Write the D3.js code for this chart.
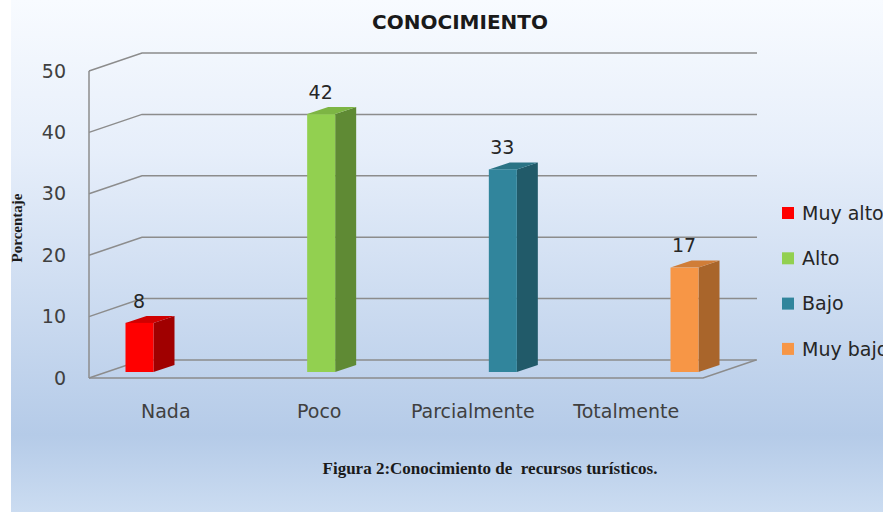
<!DOCTYPE html>
<html lang="es">
<head>
<meta charset="UTF-8">
<title>Conocimiento</title>
<script src="https://d3js.org/d3.v7.min.js"></script>
<style>
  body { margin: 0; background: #fff; overflow: hidden; }
  svg text { font-family: "DejaVu Sans", sans-serif; }
</style>
</head>
<body>
<div id="chart"></div>
<script>
// datos
const categorias = ["Nada", "Poco", "Parcialmente", "Totalmente"];
const valores = [8, 42, 33, 17];
const series = ["Muy alto", "Alto", "Bajo", "Muy bajo"];
const ticks = [0, 10, 20, 30, 40, 50];

const colores = [
  { frente: "#ff0000", lado: "#a00000", tapa: "#d00000" },
  { frente: "#92d050", lado: "#5f8a34", tapa: "#7db544" },
  { frente: "#31859c", lado: "#215a69", tapa: "#2a7385" },
  { frente: "#f79646", lado: "#a9652b", tapa: "#d07d38" }
];

const width = 883, height = 512;
// profundidad del "piso" 3D y de las barras
const prof = { dx: 53, dy: -18 };
const barProf = { dx: 21, dy: -7 };
const barShift = { dx: 18, dy: -6 };
const barW = 28;

const svg = d3.select("#chart").append("svg")
  .attr("width", width)
  .attr("height", height);

// fondo degradado
const defs = svg.append("defs");
const grad = defs.append("linearGradient")
  .attr("id", "fondo").attr("x1", 0).attr("y1", 0).attr("x2", 0).attr("y2", 1);
grad.append("stop").attr("offset", "0%").attr("stop-color", "#f8fbff");
grad.append("stop").attr("offset", "30%").attr("stop-color", "#e6eefa");
grad.append("stop").attr("offset", "85%").attr("stop-color", "#b5cbe8");
grad.append("stop").attr("offset", "100%").attr("stop-color", "#cbdcf1");

svg.append("rect")
  .attr("x", 11).attr("y", 0)
  .attr("width", width - 11).attr("height", height)
  .attr("fill", "url(#fondo)");

// escalas
const y = d3.scaleLinear().domain([0, 50]).range([378, 71]);
const xEtiqueta = d3.scaleBand().domain(categorias).range([89, 703]);
const xBarra = d3.scalePoint().domain(categorias).range([139, 684]);

const gris = "#8c8c8c";

// líneas de cuadrícula (frente -> fondo -> derecha)
svg.append("g").selectAll("path")
  .data(ticks)
  .join("path")
  .attr("d", t => {
    const p = d3.path();
    p.moveTo(89, y(t));
    p.lineTo(89 + prof.dx, y(t) + prof.dy);
    p.lineTo(757, y(t) + prof.dy);
    return p.toString();
  })
  .attr("fill", "none")
  .attr("stroke", gris)
  .attr("stroke-width", 1.5);

// eje vertical y borde del piso
svg.append("line")
  .attr("x1", 89).attr("x2", 89)
  .attr("y1", y(0)).attr("y2", y(50))
  .attr("stroke", gris).attr("stroke-width", 1.5);

svg.append("path")
  .attr("d", `M89,${y(0)}L703,${y(0)}L${703 + prof.dx},${y(0) + prof.dy}`)
  .attr("fill", "none")
  .attr("stroke", gris).attr("stroke-width", 1.5);

// etiquetas eje Y
svg.append("g").selectAll("text")
  .data(ticks)
  .join("text")
  .attr("x", 66)
  .attr("y", d => y(d))
  .attr("dy", "0.35em")
  .attr("text-anchor", "end")
  .attr("font-size", 19)
  .attr("fill", "#404040")
  .text(d => d);

// barras 3D
const barras = svg.append("g").selectAll("g")
  .data(categorias.map((c, i) => ({ c, v: valores[i], col: colores[i] })))
  .join("g");

function punto(d) {
  const x0 = xBarra(d.c) - barW / 2 + 0.5;
  const yb = y(0) + barShift.dy;
  const yt = y(d.v) + barShift.dy;
  return { x0, x1: x0 + barW, yb, yt };
}

// cara lateral
barras.append("path")
  .attr("d", d => {
    const p = punto(d);
    return `M${p.x1},${p.yb}L${p.x1 + barProf.dx},${p.yb + barProf.dy}L${p.x1 + barProf.dx},${p.yt + barProf.dy}L${p.x1},${p.yt}Z`;
  })
  .attr("fill", d => d.col.lado);

// tapa
barras.append("path")
  .attr("d", d => {
    const p = punto(d);
    return `M${p.x0},${p.yt}L${p.x0 + barProf.dx},${p.yt + barProf.dy}L${p.x1 + barProf.dx},${p.yt + barProf.dy}L${p.x1},${p.yt}Z`;
  })
  .attr("fill", d => d.col.tapa);

// frente
barras.append("rect")
  .attr("x", d => punto(d).x0)
  .attr("y", d => punto(d).yt)
  .attr("width", barW)
  .attr("height", d => punto(d).yb - punto(d).yt)
  .attr("fill", d => d.col.frente);

// valores
barras.append("text")
  .attr("x", d => xBarra(d.c))
  .attr("y", d => punto(d).yt - 22)
  .attr("dy", "0.35em")
  .attr("text-anchor", "middle")
  .attr("font-size", 19)
  .attr("fill", "#262626")
  .text(d => d.v);

// etiquetas categorías
svg.append("g").selectAll("text")
  .data(categorias)
  .join("text")
  .attr("x", d => xEtiqueta(d) + xEtiqueta.bandwidth() / 2)
  .attr("y", 411)
  .attr("dy", "0.35em")
  .attr("text-anchor", "middle")
  .attr("font-size", 19)
  .attr("fill", "#404040")
  .text(d => d);

// título
svg.append("text")
  .attr("x", 460)
  .attr("y", 22)
  .attr("dy", "0.35em")
  .attr("text-anchor", "middle")
  .attr("font-size", 20)
  .attr("font-weight", "bold")
  .attr("fill", "#1a1a1a")
  .text("CONOCIMIENTO");

// título eje Y
svg.append("text")
  .attr("transform", "translate(17,228) rotate(-90)")
  .attr("dy", "0.35em")
  .attr("text-anchor", "middle")
  .style("font-family", "'Liberation Serif', serif")
  .attr("font-size", 15)
  .attr("font-weight", "bold")
  .attr("fill", "#1a1a1a")
  .text("Porcentaje");

// leyenda
const leyenda = svg.append("g").selectAll("g")
  .data(series)
  .join("g")
  .attr("transform", (d, i) => `translate(782, ${213 + i * 45.3})`);

leyenda.append("rect")
  .attr("x", 0).attr("y", -6)
  .attr("width", 12).attr("height", 12)
  .attr("fill", (d, i) => colores[i].frente);

leyenda.append("text")
  .attr("x", 20)
  .attr("dy", "0.35em")
  .attr("font-size", 19)
  .attr("fill", "#262626")
  .text(d => d);

// pie de figura
svg.append("text")
  .attr("x", 490)
  .attr("y", 474)
  .attr("text-anchor", "middle")
  .style("font-family", "'Liberation Serif', serif")
  .attr("font-size", 17)
  .attr("font-weight", "bold")
  .attr("fill", "#1a1a1a")
  .attr("xml:space", "preserve")
  .text("Figura 2:Conocimiento de  recursos turísticos.");
</script>
</body>
</html>
